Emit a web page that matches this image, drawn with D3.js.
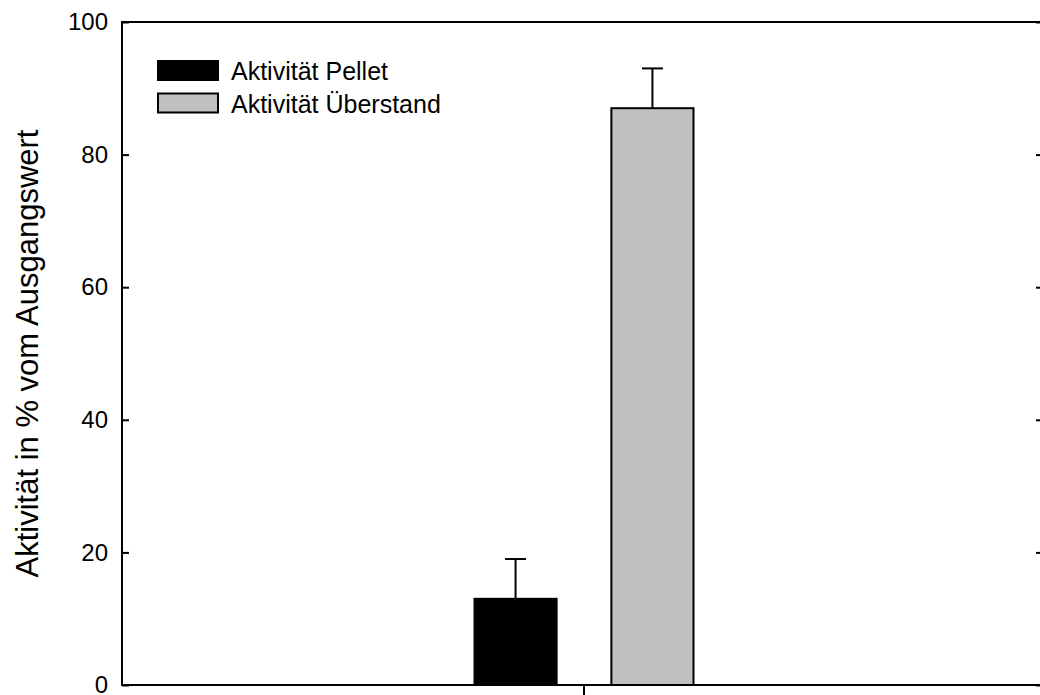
<!DOCTYPE html>
<html>
<head>
<meta charset="utf-8">
<script src="https://cdn.jsdelivr.net/npm/d3@7"></script>
<style>
  html, body { margin: 0; padding: 0; background: #fff; }
  svg { display: block; font-family: "Liberation Sans", Arial, sans-serif; }
</style>
</head>
<body>
<svg id="chart" width="1040" height="695"></svg>
<script>
const categories = [""];
const seriesNames = ["Aktivität Pellet", "Aktivität Überstand"];
const seriesColors = ["#000000", "#c0c0c0"];
const pelletValues = [13];
const pelletErrors = [6];
const ueberstandValues = [87];
const ueberstandErrors = [6];
const yTicks = [0, 20, 40, 60, 80, 100];
const yTitle = "Aktivität in % vom Ausgangswert";

(function () {
const svg = d3.select("#chart");
const mLeft = 122, mRight = 1046, mTop = 22, mBottom = 685;

const y = d3.scaleLinear().domain([0, 100]).range([mBottom, mTop]);
const x = d3.scaleBand().domain(categories).range([mLeft, mRight]).padding(0);
const xSub = d3.scaleBand().domain(seriesNames)
  .range([x(categories[0]) + x.bandwidth() * 0.3815, x(categories[0]) + x.bandwidth() * 0.6185])
  .paddingInner(0.4);

const data = [];
categories.forEach((c, i) => {
  data.push({cat: c, s: seriesNames[0], v: pelletValues[i], e: pelletErrors[i], col: seriesColors[0]});
  data.push({cat: c, s: seriesNames[1], v: ueberstandValues[i], e: ueberstandErrors[i], col: seriesColors[1]});
});

const eg = svg.append("g");
data.forEach(d => {
  const cx = xSub(d.s) + xSub.bandwidth() / 2;
  eg.append("line").attr("x1", cx).attr("x2", cx)
    .attr("y1", y(d.v)).attr("y2", y(d.v + d.e))
    .attr("stroke", "#000").attr("stroke-width", 2);
  eg.append("line").attr("x1", cx - 10.5).attr("x2", cx + 10.5)
    .attr("y1", y(d.v + d.e)).attr("y2", y(d.v + d.e))
    .attr("stroke", "#000").attr("stroke-width", 2);
});

svg.append("g").selectAll("rect").data(data).join("rect")
  .attr("x", d => xSub(d.s))
  .attr("y", d => y(d.v))
  .attr("width", xSub.bandwidth())
  .attr("height", d => y(0) - y(d.v))
  .attr("fill", d => d.col)
  .attr("stroke", "#000")
  .attr("stroke-width", 2);

svg.append("rect").attr("x", mLeft).attr("y", mTop)
  .attr("width", mRight - mLeft).attr("height", mBottom - mTop)
  .attr("fill", "none").attr("stroke", "#000").attr("stroke-width", 2);

const yAxisL = d3.axisLeft(y).tickValues(yTicks).tickSize(0).tickPadding(14);
const gL = svg.append("g").attr("transform", `translate(${mLeft},0)`).call(yAxisL);
gL.select(".domain").remove();
gL.selectAll("text").attr("font-size", 24).attr("fill", "#000")
  .attr("font-family", "Liberation Sans, Arial, sans-serif");
gL.selectAll(".tick").append("line").attr("x1", 0).attr("x2", 7)
  .attr("stroke", "#000").attr("stroke-width", 2);

const yAxisR = d3.axisRight(y).tickValues(yTicks).tickSize(0).tickFormat("");
const gR = svg.append("g").attr("transform", `translate(${mRight},0)`).call(yAxisR);
gR.select(".domain").remove();
gR.selectAll(".tick").append("line").attr("x1", 0).attr("x2", -10)
  .attr("stroke", "#000").attr("stroke-width", 2);

const xAxis = d3.axisBottom(x).tickSize(10).tickFormat("");
const gB = svg.append("g").attr("transform", `translate(0,${mBottom})`).call(xAxis);
gB.select(".domain").remove();
gB.selectAll("line").attr("stroke", "#000").attr("stroke-width", 2);

svg.append("text")
  .attr("transform", `translate(38,${(mTop + mBottom) / 2}) rotate(-90)`)
  .attr("text-anchor", "middle")
  .attr("font-size", 31)
  .attr("fill", "#000")
  .text(yTitle);

const lg = svg.append("g");
seriesNames.forEach((s, i) => {
  const yy = 61 + i * 32.5;
  lg.append("rect").attr("x", 158).attr("y", yy).attr("width", 60).attr("height", 19)
    .attr("fill", seriesColors[i]).attr("stroke", "#000").attr("stroke-width", 2);
  lg.append("text").attr("x", 231).attr("y", yy + 19)
    .attr("font-size", 25).attr("fill", "#000").text(s);
});
})();
</script>
</body>
</html>
